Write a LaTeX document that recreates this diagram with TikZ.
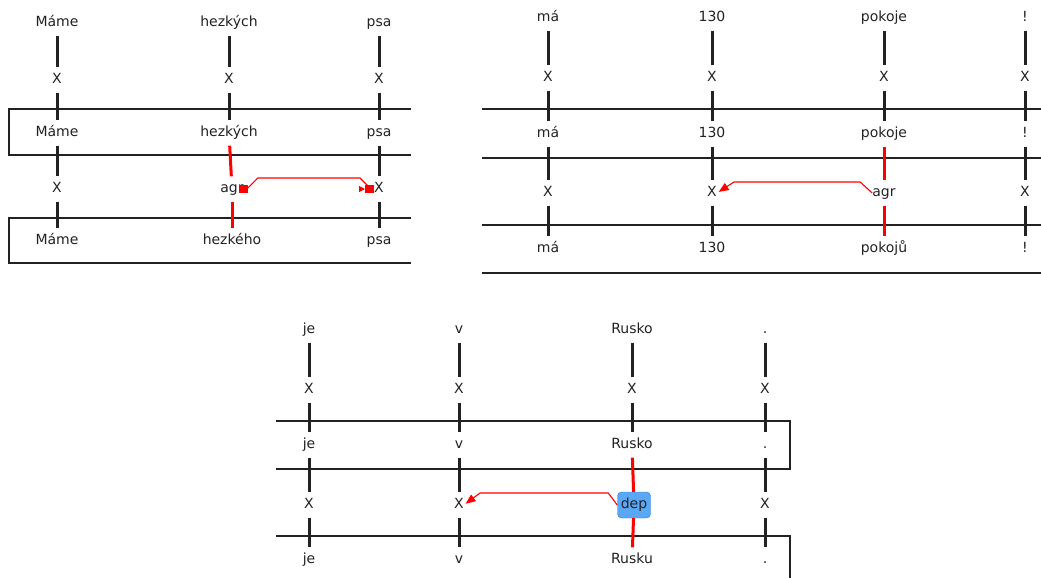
\documentclass[tikz,border=0pt]{standalone}
\usepackage{fontspec}
\setmainfont{DejaVu Sans}
\usetikzlibrary{arrows.meta,calc}

\definecolor{ink}{RGB}{34,34,34}
\definecolor{depfill}{RGB}{90,168,245}
\definecolor{depline}{RGB}{55,125,205}

\begin{document}
\begin{tikzpicture}[x=1pt, y=-1pt,
	tok/.style={inner sep=0pt, minimum height=25pt, text height=10pt, text depth=3pt, text=ink, font=\fontsize{14}{16}\selectfont},
	depbox/.style={tok, fill=depfill, draw=depline, rounded corners=4pt, minimum width=33pt, minimum height=26pt},
	bar/.style={line width=3pt, draw=ink},
	layer/.style={line width=1.1pt, draw=ink},
	link/.style={line width=1.1pt, draw=red, line join=round}]

	\useasboundingbox (0,0) rectangle (1041,578);

	% 分隔层
	\draw[layer] (411,109) -- (9,109) -- (9,155) -- (411,155);
	\draw[layer] (411,218) -- (9,218) -- (9,263) -- (411,263);
	\foreach \y in {109,158,225,273}
		\draw[layer] (482,\y) -- (1041,\y);
	\draw[layer] (276,421) -- (790,421) -- (790,469) -- (276,469);
	\draw[layer] (276,536) -- (790,536) -- (790,578);

	% 左上: 词, X 与竖线
	\foreach \x/\o/\p/\q/\s/\t/\c [count=\i] in {57/0/Máme/Máme/X/Máme/ink, 229/3/hezkých/hezkých/agr/hezkého/red, 379/0/psa/psa/X/psa/ink} {
		\node[tok] (a\i-1) at (\x,23) {\p};
		\node[tok] (a\i-2) at (\x,80) {X};
		\node[tok] (a\i-3) at (\x,133) {\q};
		\node[tok] (a\i-4) at (\x+\o,189) {\s};
		\node[tok] (a\i-5) at (\x+\o,241) {\t};
		\draw[bar] (a\i-1) -- (a\i-2);
		\draw[bar] (a\i-2) -- (a\i-3);
		\draw[bar, draw=\c] (a\i-3) -- (a\i-4);
		\draw[bar, draw=\c] (a\i-4) -- (a\i-5);
	}

	% 右上
	\foreach \x/\p/\q/\s/\t/\c [count=\i] in {548/má/má/X/má/ink, 712/130/130/X/130/ink, 884/pokoje/pokoje/agr/pokojů/red, 1025/!/!/X/!/ink} {
		\node[tok] (b\i-1) at (\x,18) {\p};
		\node[tok] (b\i-2) at (\x,78) {X};
		\node[tok] (b\i-3) at (\x,134) {\q};
		\node[tok] (b\i-4) at (\x,193) {\s};
		\node[tok] (b\i-5) at (\x,249) {\t};
		\draw[bar] (b\i-1) -- (b\i-2);
		\draw[bar] (b\i-2) -- (b\i-3);
		\draw[bar, draw=\c] (b\i-3) -- (b\i-4);
		\draw[bar, draw=\c] (b\i-4) -- (b\i-5);
	}

	% 下方
	\foreach \x/\o/\p/\q/\s/\t/\c/\st [count=\i] in {309/0/je/je/X/je/ink/tok, 459/0/v/v/X/v/ink/tok, 632/2/Rusko/Rusko/dep/Rusku/red/depbox, 765/0/././X/./ink/tok} {
		\node[tok] (c\i-1) at (\x,330) {\p};
		\node[tok] (c\i-2) at (\x,390) {X};
		\node[tok] (c\i-3) at (\x,445) {\q};
		\node[\st] (c\i-4) at (\x+\o,505) {\s};
		\node[tok] (c\i-5) at (\x,560) {\t};
		\draw[bar] (c\i-1) -- (c\i-2);
		\draw[bar] (c\i-2) -- (c\i-3);
		\draw[bar, draw=\c] (c\i-3) -- (c\i-4);
		\draw[bar, draw=\c] (c\i-4) -- (c\i-5);
	}

	% 关系箭头
	\draw[link, {Square[length=9pt,width=8pt]}-{Triangle[length=6pt,width=6pt] Square[length=9pt,width=8pt]}, shorten <=-5pt]
		(a2-4.east) -- ++(3,0) -- ++(11,-11) -- ($(a3-4.west)+(-14,-11)$) -- ($(a3-4.west)+(-3,0)$) -- (a3-4.west);
	\draw[link, -{Triangle[length=10pt,width=8pt]}, shorten >=2pt]
		(b3-4.west) -- ++(-12,-11) -- ($(b2-4.east)+(17,-11)$) -- (b2-4.east);
	\draw[link, -{Triangle[length=10pt,width=8pt]}, shorten >=2pt]
		(c3-4.west) -- ++(-9,-12) -- ($(c2-4.east)+(16,-12)$) -- (c2-4.east);
\end{tikzpicture}
\end{document}
